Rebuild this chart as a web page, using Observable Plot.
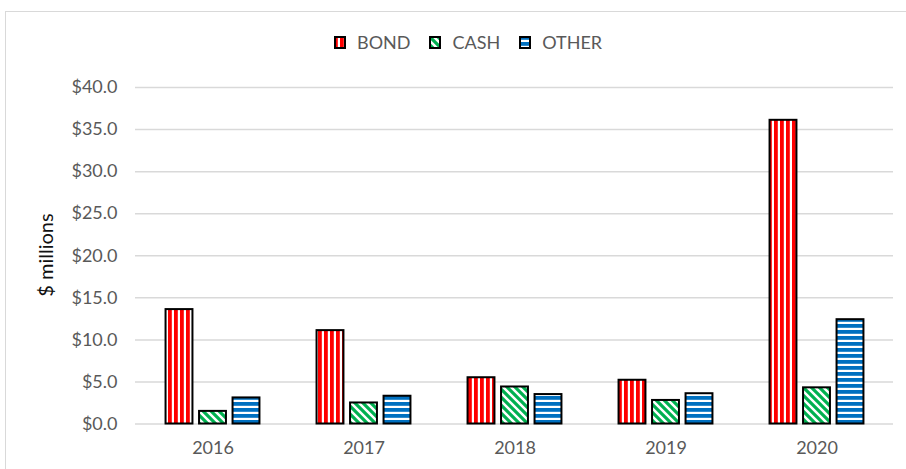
<!DOCTYPE html>
<html>
<head>
<meta charset="utf-8">
<script src="https://cdn.jsdelivr.net/npm/d3@7"></script>
<script src="https://cdn.jsdelivr.net/npm/@observablehq/plot@0.6"></script>
<style>
  body { margin: 0; background: #fff; }
  #wrap { position: relative; width: 906px; height: 469px; overflow: hidden; font-family: Lato, "Open Sans", sans-serif; }
  #frame { position: absolute; left: 5px; top: 11px; width: 960px; height: 520px; border: 1.5px solid #d9d9d9; box-sizing: border-box; }
  #chart { position: absolute; left: 0; top: 0; }
  #legend { position: absolute; left: 334px; top: 31px; display: flex; align-items: center; font-size: 18px; color: #595959; }
  #legend .item { display: flex; align-items: center; margin-right: 19px; }
  #legend svg { margin-right: 11px; }
  #ylabel { position: absolute; left: 45px; top: 255px; transform: translate(-50%, -50%) rotate(-90deg); font-size: 20px; color: #111; white-space: nowrap; }
</style>
</head>
<body>
<div id="wrap">
  <div id="frame"></div>
  <div id="chart"></div>
  <div id="legend"></div>
  <div id="ylabel">$ millions</div>
</div>
<script>
const years = ["2016", "2017", "2018", "2019", "2020"];
const seriesNames = ["BOND", "CASH", "OTHER"];
const bond = [13.6, 11.1, 5.5, 5.2, 36.1];
const cash = [1.5, 2.5, 4.4, 2.8, 4.3];
const other = [3.1, 3.3, 3.5, 3.6, 12.4];
const yTicks = [0, 5, 10, 15, 20, 25, 30, 35, 40];

const seriesValues = [bond, cash, other];
const patternIds = ["pat-bond", "pat-cash", "pat-other"];

const width = 906, height = 469;
const marginLeft = 135, marginRight = 13, marginTop = 87, marginBottom = 45.5;
const bw = (width - marginLeft - marginRight) / years.length;
const barW = 27.5, gap = 6;

const bars = seriesNames.map((s, i) => {
  const data = years.map((y, j) => ({year: y, series: s, value: seriesValues[i][j]}));
  const leftOffset = -1.5 * barW - gap + i * (barW + gap);
  const insetLeft = bw / 2 + leftOffset;
  const insetRight = bw - insetLeft - barW;
  return Plot.barY(data, {
    x: "year", y: "value", fill: "series",
    stroke: "#000", strokeWidth: 2,
    insetLeft, insetRight
  });
});

const chart = Plot.plot({
  width, height, marginLeft, marginRight, marginTop, marginBottom,
  style: {fontFamily: "Lato, 'Open Sans', sans-serif", fontSize: "18px", color: "#595959", background: "transparent"},
  x: {domain: years, padding: 0, axis: null},
  y: {domain: [0, 40], axis: null},
  color: {type: "ordinal", domain: seriesNames, range: patternIds.map(id => `url(#${id})`)},
  marks: [
    Plot.gridY(yTicks, {stroke: "#d9d9d9", strokeOpacity: 1, strokeWidth: 1.5}),
    ...bars,
    Plot.axisY(yTicks, {tickSize: 0, tickPadding: 18, tickFormat: d => "$" + d.toFixed(1), label: null}),
    Plot.axisX({tickSize: 0, tickPadding: 17, label: null})
  ]
});

const svg = d3.select(chart.tagName.toLowerCase() === "svg" ? chart : chart.querySelector("svg"));
const defs = svg.insert("defs", ":first-child");
// BOND: red vertical stripes
const pb = defs.append("pattern").attr("id", "pat-bond").attr("patternUnits", "userSpaceOnUse").attr("width", 6).attr("height", 6);
pb.append("rect").attr("width", 6).attr("height", 6).attr("fill", "#fff");
pb.append("rect").attr("x", 0).attr("width", 3.8).attr("height", 6).attr("fill", "#ff0000");
// CASH: green downward diagonal stripes
const pc = defs.append("pattern").attr("id", "pat-cash").attr("patternUnits", "userSpaceOnUse").attr("width", 8).attr("height", 8);
pc.append("rect").attr("width", 8).attr("height", 8).attr("fill", "#fff");
pc.append("path").attr("d", "M-2,-2 L10,10 M-2,6 L2,10 M6,-2 L10,2").attr("stroke", "#00b050").attr("stroke-width", 3.2);
// OTHER: blue horizontal stripes
const po = defs.append("pattern").attr("id", "pat-other").attr("patternUnits", "userSpaceOnUse").attr("width", 6).attr("height", 6);
po.append("rect").attr("width", 6).attr("height", 6).attr("fill", "#fff");
po.append("rect").attr("y", 0).attr("width", 6).attr("height", 3.8).attr("fill", "#0070c0");

document.getElementById("chart").appendChild(chart);

// Legend
const legend = d3.select("#legend");
seriesNames.forEach((s, i) => {
  const item = legend.append("div").attr("class", "item");
  const sw = item.append("svg").attr("width", 12).attr("height", 13);
  sw.append("rect").attr("x", 1).attr("y", 1).attr("width", 10).attr("height", 11)
    .attr("fill", `url(#${patternIds[i]})`).attr("stroke", "#000").attr("stroke-width", 2);
  item.append("span").text(s);
});
</script>
</body>
</html>
